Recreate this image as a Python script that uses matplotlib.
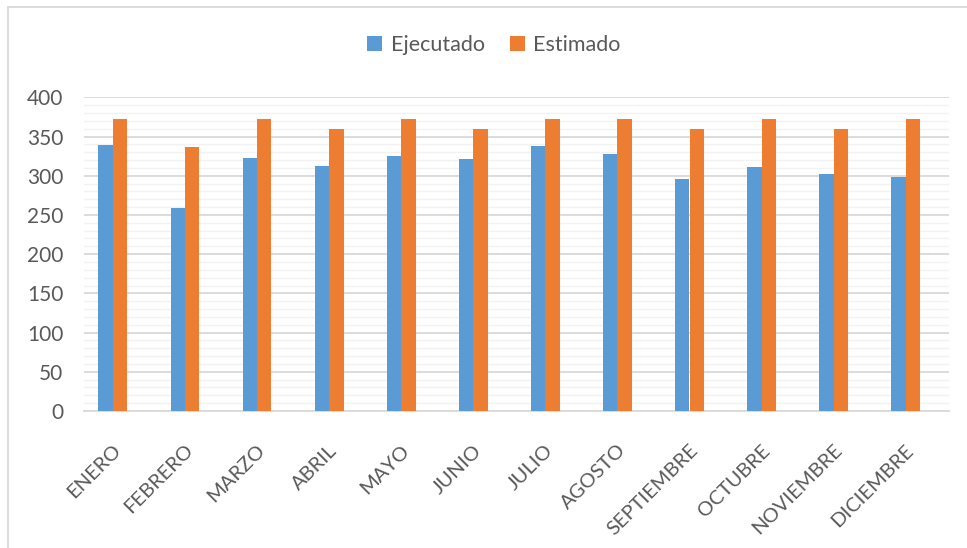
import matplotlib.pyplot as plt
from matplotlib.lines import Line2D
from matplotlib.ticker import MultipleLocator
from matplotlib.transforms import ScaledTranslation
import numpy as np

meses = ['ENERO', 'FEBRERO', 'MARZO', 'ABRIL', 'MAYO', 'JUNIO', 'JULIO',
         'AGOSTO', 'SEPTIEMBRE', 'OCTUBRE', 'NOVIEMBRE', 'DICIEMBRE']
ejecutado = [339, 259, 323, 312, 325, 321, 338, 328, 296, 311, 302, 298]
estimado = [372, 336, 372, 360, 372, 360, 372, 372, 360, 372, 360, 372]

AZUL = '#5B9BD5'
NARANJA = '#ED7D31'
GRIS_TXT = '#595959'

plt.rcParams['font.family'] = ['Lato', 'DejaVu Sans']

fig = plt.figure(figsize=(9.67, 5.48), dpi=100)
ax = fig.add_axes([84 / 967, 1 - 411 / 548, (949 - 84) / 967, (411 - 97.3) / 548])

x = np.arange(len(meses))
w = 0.2
ax.bar(x - w, ejecutado, w, color=AZUL, label='Ejecutado', zorder=3)
ax.bar(x, estimado, w, color=NARANJA, label='Estimado', zorder=3)

ax.set_xlim(-0.5, len(meses) - 0.5)
ax.set_ylim(0, 400)
ax.yaxis.set_major_locator(MultipleLocator(50))
ax.yaxis.set_minor_locator(MultipleLocator(10))
ax.grid(axis='y', which='major', color='#d9d9d9', lw=1.3, zorder=1)
ax.grid(axis='y', which='minor', color='#f2f2f2', lw=1.0, zorder=0)

for s in ['top', 'right', 'left']:
    ax.spines[s].set_visible(False)
ax.spines['bottom'].set_color('#d9d9d9')
ax.spines['bottom'].set_linewidth(1.3)

ax.tick_params(axis='y', which='both', length=0, pad=15, labelsize=15, labelcolor=GRIS_TXT)
ax.tick_params(axis='x', length=0, pad=22, labelsize=14.5, labelcolor=GRIS_TXT)
ax.set_xticks(x)
ax.set_xticklabels(meses, rotation=45, ha='right', rotation_mode='anchor')
# etiquetas un poco a la izquierda
desplazar = ScaledTranslation(-8 / 100, 0, fig.dpi_scale_trans)
for lbl in ax.get_xticklabels():
    lbl.set_transform(lbl.get_transform() + desplazar)

fig.legend(loc='center', bbox_to_anchor=(494 / 967, 1 - 45 / 548), ncol=2,
           frameon=False, fontsize=15.5, labelcolor=GRIS_TXT, handlelength=0.7,
           handleheight=0.7, handletextpad=0.4, columnspacing=1.15)

# marco del grafico
fig.add_artist(Line2D([8 / 967, 8 / 967], [0, 1 - 7 / 548], color='#d9d9d9', lw=1.3))
fig.add_artist(Line2D([8 / 967, 1], [1 - 7 / 548, 1 - 7 / 548], color='#d9d9d9', lw=1.3))

fig.savefig('out.png', dpi=100)
